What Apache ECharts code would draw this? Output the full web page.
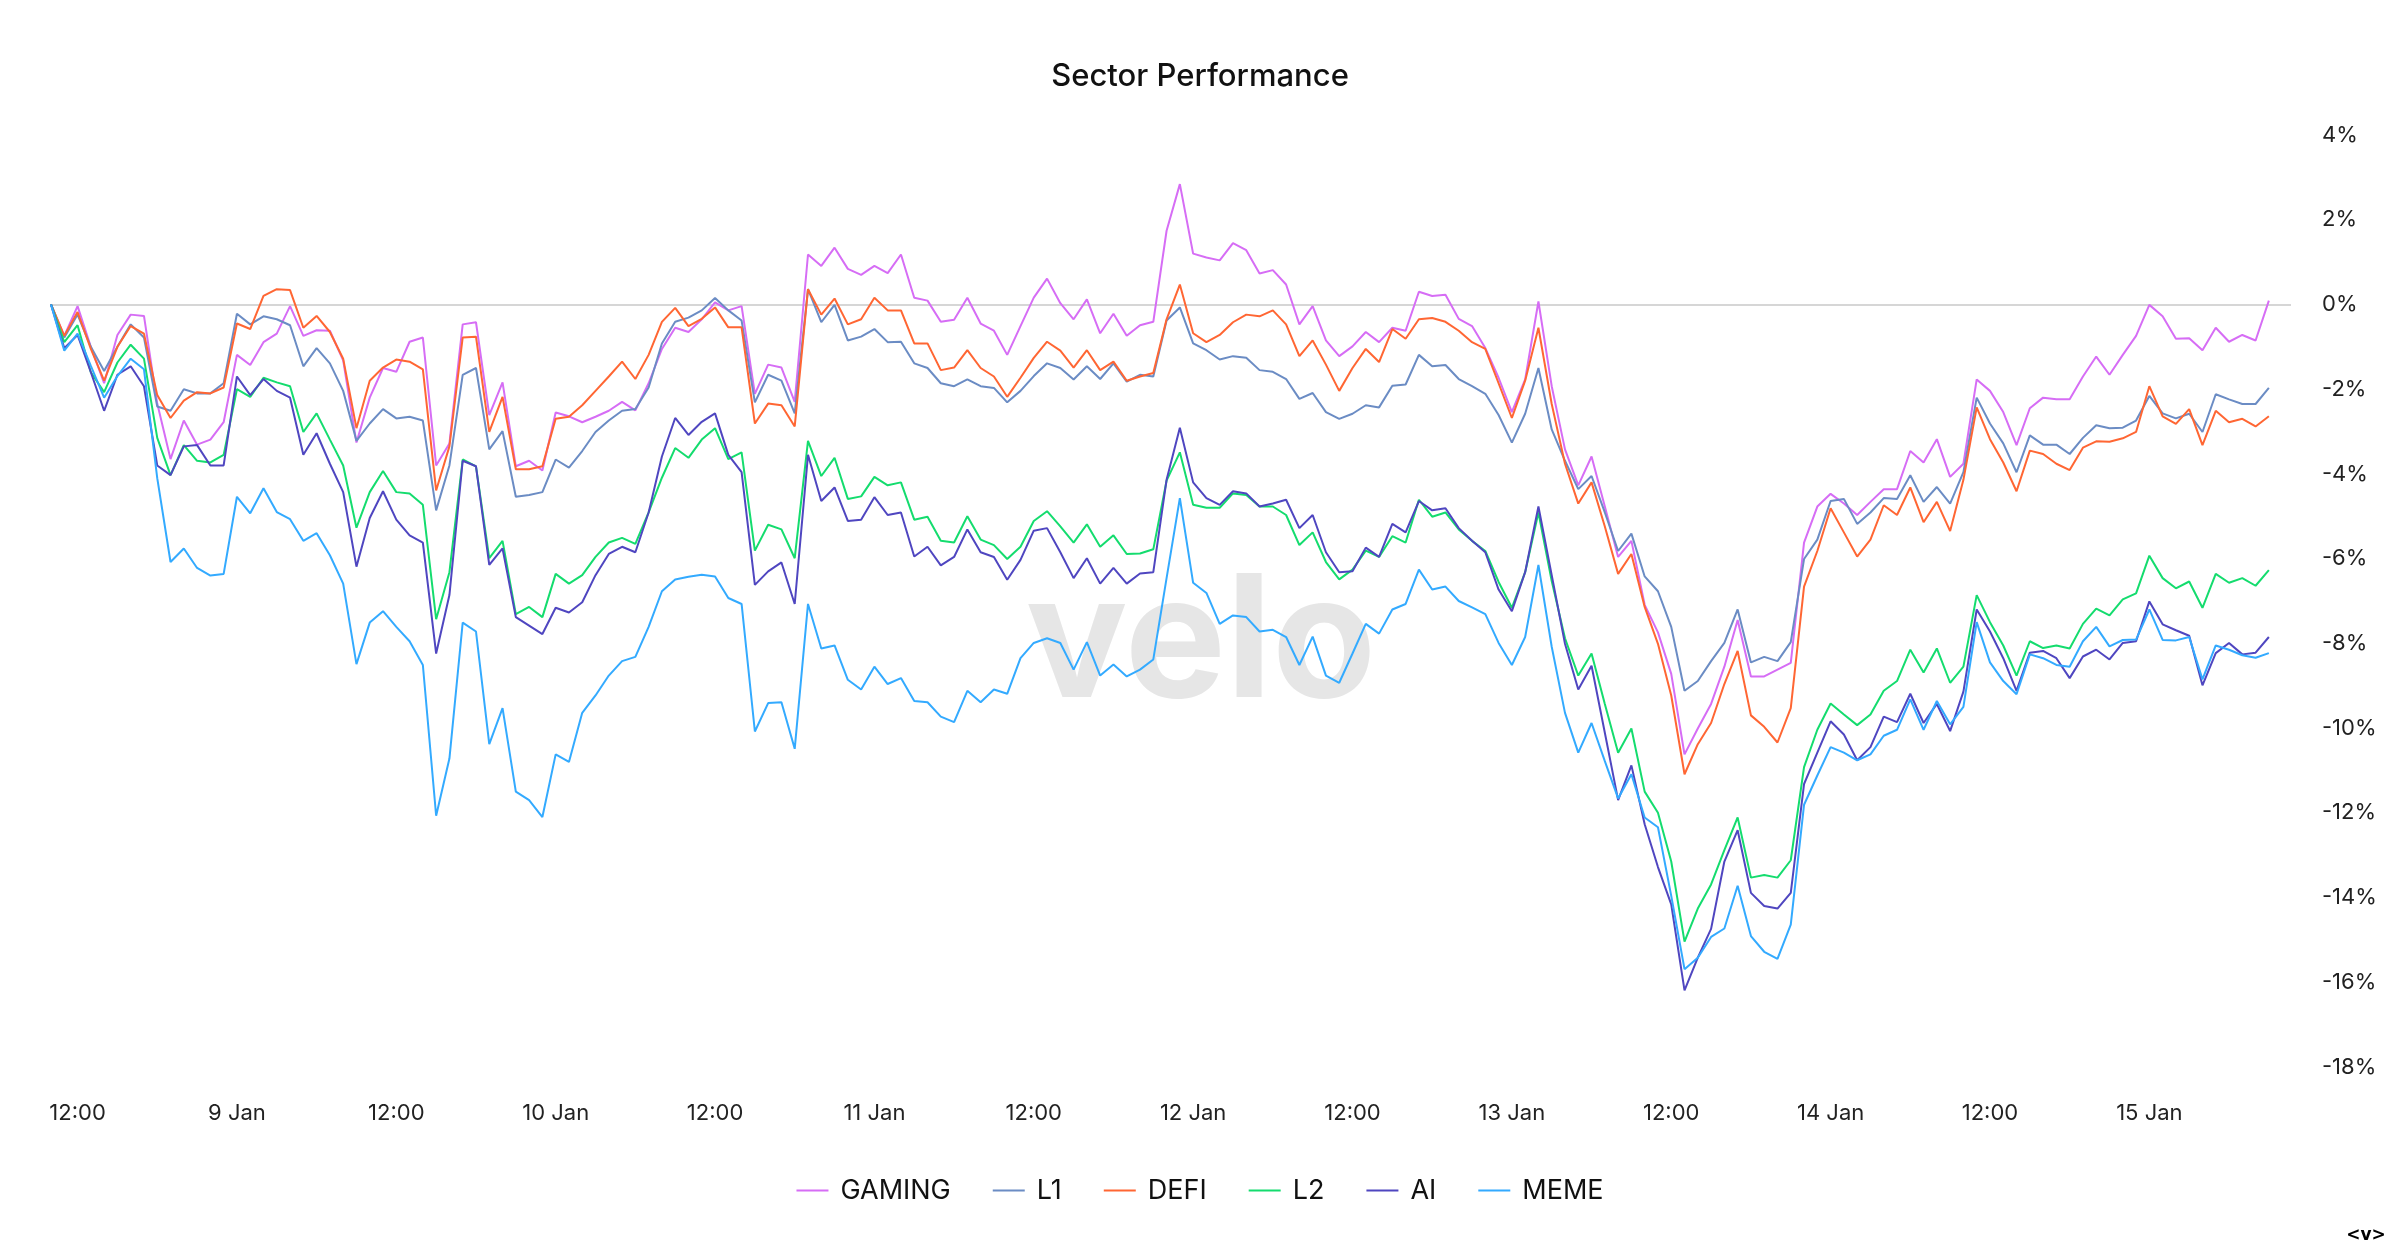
<!DOCTYPE html>
<html>
<head>
<meta charset="utf-8">
<script src="https://cdn.jsdelivr.net/npm/echarts@6/dist/echarts.min.js"></script>
<style>
html,body{margin:0;padding:0;background:#fff;}
#chart{width:2400px;height:1256px;}
</style>
</head>
<body>
<div id="chart"></div>
<script>
// Hourly samples starting 8 Jan 10:00
const START = new Date(2025, 0, 8, 10, 0, 0).getTime();
const HOUR = 3600 * 1000;
const AXIS_END = new Date(2025, 0, 15, 10, 40, 0).getTime();

const seriesNames = ['GAMING', 'L1', 'DEFI', 'L2', 'AI', 'MEME'];
const seriesColors = ['#d66df5', '#6b8cc4', '#ff6633', '#14dc6e', '#4f46c0', '#33aaff'];

const gaming = [0,-0.74,-0.04,-1.0,-1.86,-0.72,-0.24,-0.27,-2.34,-3.65,
-2.74,-3.31,-3.19,-2.78,-1.19,-1.43,-0.89,-0.69,-0.04,-0.74,
-0.61,-0.62,-1.32,-3.26,-2.2,-1.5,-1.59,-0.88,-0.78,-3.8,
-3.28,-0.47,-0.42,-2.61,-1.84,-3.82,-3.69,-3.92,-2.55,-2.64,
-2.78,-2.65,-2.51,-2.3,-2.5,-1.86,-1.05,-0.55,-0.65,-0.35,
0.05,-0.14,-0.04,-2.11,-1.42,-1.49,-2.3,1.18,0.91,1.34,
0.84,0.70,0.91,0.74,1.18,0.16,0.09,-0.41,-0.36,0.16,
-0.45,-0.62,-1.19,-0.51,0.16,0.61,0.03,-0.35,0.12,-0.68,
-0.22,-0.74,-0.49,-0.41,1.74,2.84,1.2,1.11,1.04,1.45,
1.28,0.73,0.81,0.47,-0.47,-0.04,-0.85,-1.22,-0.99,-0.65,
-0.89,-0.55,-0.62,0.3,0.2,0.23,-0.34,-0.51,-1.03,-1.73,
-2.54,-1.77,0.07,-1.93,-3.42,-4.27,-3.59,-4.77,-5.96,-5.58,
-7.09,-7.74,-8.72,-10.62,-10.01,-9.43,-8.55,-7.45,-8.78,-8.78,
-8.62,-8.46,-5.62,-4.77,-4.47,-4.7,-4.97,-4.66,-4.36,-4.36,
-3.46,-3.73,-3.18,-4.07,-3.76,-1.77,-2.04,-2.54,-3.32,-2.45,
-2.2,-2.24,-2.24,-1.7,-1.23,-1.66,-1.19,-0.74,-0.01,-0.28,
-0.81,-0.8,-1.08,-0.55,-0.88,-0.72,-0.85,0.09];

const l1 = [0,-0.78,-0.24,-1.0,-1.57,-1.0,-0.47,-0.78,-2.41,-2.51,
-2.0,-2.1,-2.1,-1.86,-0.22,-0.47,-0.28,-0.35,-0.49,-1.46,
-1.03,-1.39,-2.04,-3.22,-2.81,-2.47,-2.69,-2.65,-2.74,-4.86,
-3.8,-1.66,-1.5,-3.42,-2.99,-4.54,-4.5,-4.43,-3.66,-3.85,
-3.46,-3.01,-2.74,-2.51,-2.47,-1.96,-0.92,-0.41,-0.31,-0.14,
0.15,-0.14,-0.38,-2.31,-1.66,-1.8,-2.57,0.36,-0.42,-0.01,
-0.85,-0.76,-0.58,-0.89,-0.88,-1.39,-1.5,-1.86,-1.93,-1.77,
-1.93,-1.97,-2.31,-2.04,-1.69,-1.39,-1.5,-1.77,-1.46,-1.76,
-1.39,-1.82,-1.66,-1.7,-0.38,-0.07,-0.92,-1.08,-1.3,-1.22,
-1.26,-1.55,-1.59,-1.76,-2.23,-2.09,-2.54,-2.7,-2.58,-2.38,
-2.43,-1.92,-1.89,-1.19,-1.46,-1.43,-1.76,-1.93,-2.11,-2.61,
-3.26,-2.58,-1.5,-2.95,-3.69,-4.36,-4.05,-4.91,-5.82,-5.41,
-6.42,-6.77,-7.61,-9.12,-8.89,-8.42,-7.99,-7.2,-8.45,-8.32,
-8.42,-7.97,-6.01,-5.55,-4.64,-4.59,-5.18,-4.91,-4.57,-4.59,
-4.03,-4.66,-4.31,-4.7,-3.96,-2.2,-2.81,-3.28,-3.96,-3.09,
-3.31,-3.31,-3.53,-3.15,-2.85,-2.92,-2.91,-2.74,-2.16,-2.57,
-2.69,-2.58,-3.01,-2.12,-2.24,-2.35,-2.35,-1.97];

const defi = [0,-0.74,-0.18,-1.05,-1.8,-1.0,-0.51,-0.69,-2.14,-2.68,
-2.27,-2.07,-2.1,-1.96,-0.45,-0.58,0.2,0.36,0.34,-0.55,
-0.27,-0.65,-1.28,-2.92,-1.8,-1.49,-1.3,-1.35,-1.53,-4.39,
-3.35,-0.78,-0.76,-3.01,-2.18,-3.89,-3.89,-3.82,-2.7,-2.65,
-2.38,-2.04,-1.7,-1.35,-1.76,-1.19,-0.41,-0.08,-0.51,-0.34,
-0.07,-0.54,-0.54,-2.81,-2.34,-2.38,-2.88,0.36,-0.24,0.14,
-0.47,-0.35,0.16,-0.14,-0.14,-0.92,-0.92,-1.55,-1.49,-1.08,
-1.5,-1.7,-2.18,-1.73,-1.26,-0.88,-1.09,-1.49,-1.08,-1.55,
-1.35,-1.8,-1.7,-1.62,-0.35,0.47,-0.68,-0.89,-0.72,-0.42,
-0.24,-0.28,-0.14,-0.47,-1.22,-0.85,-1.42,-2.04,-1.5,-1.05,
-1.36,-0.58,-0.81,-0.35,-0.32,-0.41,-0.62,-0.89,-1.05,-1.86,
-2.68,-1.8,-0.55,-2.35,-3.76,-4.7,-4.2,-5.24,-6.36,-5.89,
-7.14,-8.01,-9.23,-11.09,-10.38,-9.88,-8.96,-8.18,-9.7,-9.97,
-10.34,-9.53,-6.66,-5.82,-4.81,-5.38,-5.95,-5.55,-4.74,-4.97,
-4.32,-5.14,-4.66,-5.35,-4.14,-2.43,-3.18,-3.73,-4.41,-3.45,
-3.53,-3.76,-3.91,-3.38,-3.23,-3.24,-3.16,-3.01,-1.93,-2.64,
-2.82,-2.47,-3.32,-2.51,-2.78,-2.7,-2.88,-2.64];

const l2 = [0,-0.89,-0.49,-1.6,-2.07,-1.37,-0.95,-1.28,-3.15,-4.03,
-3.32,-3.69,-3.73,-3.55,-2.0,-2.18,-1.73,-1.84,-1.93,-3.01,
-2.57,-3.19,-3.8,-5.27,-4.43,-3.93,-4.43,-4.46,-4.73,-7.43,
-6.32,-3.66,-3.82,-5.99,-5.58,-7.31,-7.14,-7.38,-6.36,-6.59,
-6.39,-5.96,-5.62,-5.51,-5.65,-4.91,-4.09,-3.39,-3.62,-3.19,
-2.92,-3.65,-3.49,-5.81,-5.2,-5.31,-5.99,-3.22,-4.05,-3.62,
-4.59,-4.53,-4.07,-4.27,-4.2,-5.08,-5.01,-5.58,-5.62,-5.0,
-5.55,-5.68,-6.01,-5.72,-5.11,-4.88,-5.24,-5.62,-5.19,-5.72,
-5.45,-5.89,-5.88,-5.78,-4.16,-3.49,-4.73,-4.8,-4.8,-4.46,
-4.5,-4.77,-4.77,-4.97,-5.68,-5.38,-6.08,-6.49,-6.26,-5.81,
-5.96,-5.47,-5.62,-4.61,-5.01,-4.91,-5.31,-5.58,-5.82,-6.55,
-7.16,-6.32,-4.91,-6.53,-7.88,-8.76,-8.24,-9.43,-10.58,-10.01,
-11.5,-12.0,-13.15,-15.04,-14.26,-13.69,-12.88,-12.11,-13.53,-13.47,
-13.53,-13.12,-10.92,-10.04,-9.42,-9.68,-9.93,-9.68,-9.12,-8.89,
-8.15,-8.69,-8.12,-8.93,-8.55,-6.86,-7.5,-8.05,-8.76,-7.95,
-8.11,-8.05,-8.12,-7.54,-7.18,-7.34,-6.96,-6.82,-5.93,-6.46,
-6.7,-6.54,-7.16,-6.36,-6.57,-6.46,-6.64,-6.27];

const ai = [0,-1.03,-0.72,-1.6,-2.51,-1.66,-1.46,-1.93,-3.8,-4.03,
-3.35,-3.32,-3.8,-3.8,-1.7,-2.14,-1.76,-2.04,-2.2,-3.55,
-3.04,-3.76,-4.43,-6.19,-5.04,-4.41,-5.08,-5.45,-5.62,-8.24,
-6.86,-3.69,-3.82,-6.15,-5.76,-7.38,-7.58,-7.78,-7.16,-7.27,
-7.03,-6.39,-5.89,-5.72,-5.85,-4.91,-3.59,-2.68,-3.08,-2.77,
-2.57,-3.55,-3.96,-6.62,-6.3,-6.09,-7.07,-3.55,-4.64,-4.32,
-5.11,-5.08,-4.55,-4.97,-4.91,-5.95,-5.72,-6.16,-5.96,-5.31,
-5.85,-5.96,-6.5,-6.03,-5.34,-5.28,-5.85,-6.46,-5.99,-6.59,
-6.22,-6.59,-6.35,-6.32,-4.14,-2.91,-4.2,-4.57,-4.73,-4.41,
-4.46,-4.77,-4.7,-4.61,-5.28,-4.97,-5.85,-6.32,-6.3,-5.74,
-5.96,-5.18,-5.38,-4.64,-4.86,-4.81,-5.28,-5.58,-5.85,-6.73,
-7.24,-6.32,-4.77,-6.39,-8.01,-9.09,-8.53,-10.11,-11.7,-10.88,
-12.27,-13.28,-14.16,-16.19,-15.42,-14.74,-13.15,-12.41,-13.89,-14.2,
-14.26,-13.89,-11.32,-10.58,-9.84,-10.15,-10.76,-10.45,-9.73,-9.86,
-9.19,-9.88,-9.43,-10.07,-9.14,-7.2,-7.72,-8.35,-9.12,-8.22,
-8.18,-8.35,-8.82,-8.31,-8.15,-8.38,-7.99,-7.95,-7.01,-7.55,
-7.69,-7.82,-8.99,-8.23,-7.99,-8.26,-8.22,-7.85];

const meme = [0,-1.09,-0.69,-1.45,-2.2,-1.69,-1.28,-1.53,-4.1,-6.08,
-5.76,-6.22,-6.4,-6.36,-4.54,-4.93,-4.34,-4.9,-5.07,-5.58,
-5.4,-5.92,-6.59,-8.49,-7.51,-7.24,-7.61,-7.95,-8.51,-12.07,
-10.72,-7.51,-7.72,-10.38,-9.53,-11.5,-11.7,-12.1,-10.62,-10.8,
-9.64,-9.23,-8.76,-8.42,-8.32,-7.61,-6.77,-6.49,-6.43,-6.38,
-6.42,-6.93,-7.07,-10.08,-9.41,-9.39,-10.49,-7.07,-8.12,-8.05,
-8.86,-9.09,-8.55,-8.96,-8.82,-9.36,-9.39,-9.73,-9.86,-9.12,
-9.39,-9.09,-9.19,-8.35,-7.99,-7.88,-7.99,-8.62,-7.97,-8.76,
-8.5,-8.78,-8.62,-8.38,-6.46,-4.57,-6.57,-6.81,-7.54,-7.34,
-7.38,-7.72,-7.68,-7.85,-8.51,-7.84,-8.76,-8.93,-8.24,-7.54,
-7.77,-7.2,-7.07,-6.26,-6.73,-6.66,-7.0,-7.15,-7.31,-7.99,
-8.51,-7.85,-6.15,-8.08,-9.64,-10.58,-9.88,-10.78,-11.66,-11.09,
-12.11,-12.34,-13.96,-15.69,-15.42,-14.93,-14.73,-13.72,-14.91,-15.28,
-15.45,-14.64,-11.81,-11.12,-10.45,-10.58,-10.76,-10.62,-10.18,-10.04,
-9.32,-10.04,-9.36,-9.91,-9.5,-7.5,-8.45,-8.89,-9.2,-8.26,
-8.35,-8.51,-8.55,-7.95,-7.61,-8.07,-7.92,-7.91,-7.2,-7.92,
-7.93,-7.85,-8.85,-8.05,-8.15,-8.28,-8.34,-8.23];

const yTicks = { min: -18, max: 4, step: 2 };
const allValues = [gaming, l1, defi, l2, ai, meme];

const FONT = 'Inter';
const chart = echarts.init(document.getElementById('chart'), null, { renderer: 'canvas' });

const series = seriesNames.map((name, k) => ({
  name: name,
  type: 'line',
  data: allValues[k].map((v, i) => [START + i * HOUR, v]),
  symbol: 'none',
  showSymbol: false,
  smooth: false,
  z: 3,
  lineStyle: { width: 2, color: seriesColors[k] },
  itemStyle: { color: seriesColors[k] },
  markLine: k === 0 ? {
    silent: true,
    symbol: ['none', 'none'],
    label: { show: false },
    lineStyle: { color: '#c8c8c8', type: 'solid', width: 1.5 },
    data: [{ yAxis: 0 }],
    z: 1
  } : undefined
}));

const option = {
  animation: false,
  backgroundColor: '#ffffff',
  title: {
    text: 'Sector Performance',
    left: 'center',
    top: 56,
    textStyle: { fontFamily: FONT, fontSize: 31, fontWeight: 500, color: '#111111' }
  },
  legend: {
    data: seriesNames,
    left: 'center',
    top: 1172,
    itemWidth: 32,
    itemHeight: 14,
    itemGap: 42,
    icon: 'path://M0,6 L32,6 L32,8 L0,8 Z',
    textStyle: { fontFamily: FONT, fontSize: 27, color: '#111111', padding: [0, 0, 0, 7] }
  },
  grid: { left: 51, right: 109, top: 135, bottom: 189, containLabel: false },
  xAxis: {
    type: 'time',
    min: START,
    max: AXIS_END,
    minInterval: 12 * HOUR,
    maxInterval: 12 * HOUR,
    axisLine: { show: false, onZero: false },
    axisTick: { show: false },
    splitLine: { show: false },
    axisLabel: {
      fontFamily: FONT,
      fontSize: 22,
      color: '#222222',
      margin: 35,
      showMinLabel: false,
      showMaxLabel: false,
      formatter: function (value) {
        const d = new Date(value);
        if (d.getHours() === 0 && d.getMinutes() === 0) return d.getDate() + ' Jan';
        if (d.getHours() === 12 && d.getMinutes() === 0) return '12:00';
        return '';
      }
    }
  },
  yAxis: {
    type: 'value',
    position: 'right',
    min: yTicks.min,
    max: yTicks.max,
    interval: yTicks.step,
    axisLine: { show: false },
    axisTick: { show: false },
    splitLine: { show: false },
    axisLabel: {
      fontFamily: FONT,
      fontSize: 22,
      color: '#222222',
      margin: 31,
      formatter: '{value}%'
    }
  },
  graphic: [
    {
      type: 'text',
      z: 0,
      silent: true,
      x: 1201,
      y: 646,
      style: {
        text: 'velo',
        fontFamily: FONT,
        fontSize: 170,
        fontWeight: 700,
        fill: '#e6e6e6',
        align: 'center',
        verticalAlign: 'middle'
      }
    },
    {
      type: 'text',
      z: 10,
      silent: true,
      x: 2366,
      y: 1236,
      style: {
        text: '<v>',
        fontFamily: 'DejaVu Sans',
        fontSize: 17,
        fontWeight: 'bold',
        fill: '#000000',
        align: 'center',
        verticalAlign: 'middle'
      }
    }
  ],
  series: series
};

chart.setOption(option);
</script>
</body>
</html>
